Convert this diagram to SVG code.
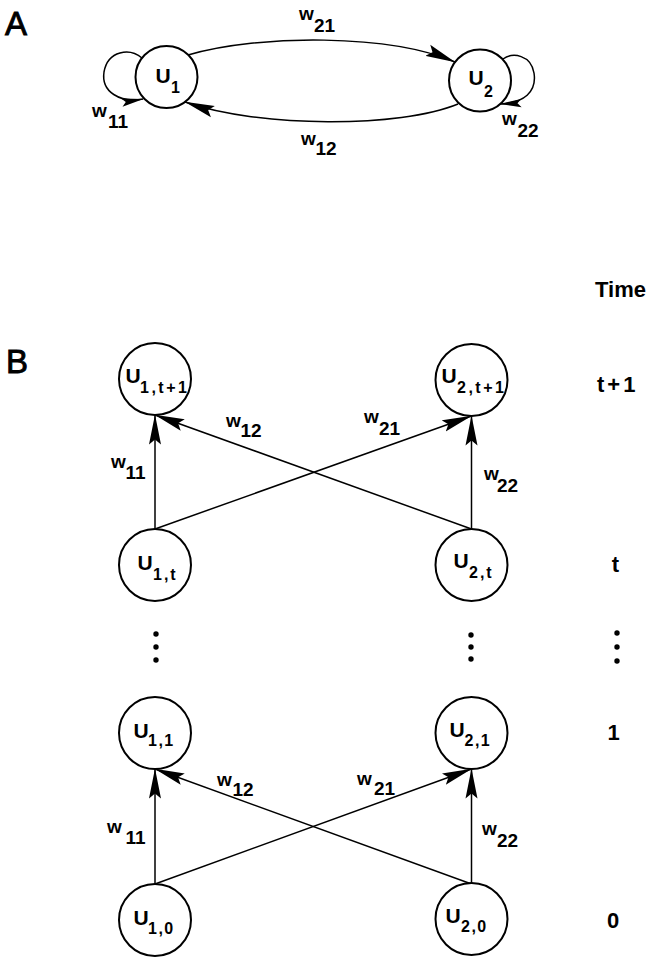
<svg xmlns="http://www.w3.org/2000/svg" width="651" height="960" viewBox="0 0 651 960">
<defs>
<marker id="arr" markerUnits="userSpaceOnUse" markerWidth="30" markerHeight="13" viewBox="0 0 30 13" refX="29.5" refY="6.5" orient="auto">
<path d="M0,0.5 L30,6.5 L0,12.5 L5,6.5 Z" fill="#000"/>
</marker>
<marker id="arrs" markerUnits="userSpaceOnUse" markerWidth="22" markerHeight="9" viewBox="0 0 22 9" refX="21.5" refY="4.5" orient="auto">
<path d="M0,0.3 L22,4.5 L0,8.7 L4,4.5 Z" fill="#000"/>
</marker>
</defs>
<style>
.node{fill:#fff;stroke:#000;stroke-width:2}
.edge{fill:none;stroke:#000;stroke-width:1.5}
.arr{marker-end:url(#arr)}
.lp{marker-end:url(#arrs)}
text{font-family:"Liberation Sans",Arial,Helvetica,sans-serif;fill:#000}
.u{font-size:21px;font-weight:bold}
.s{font-size:16px;font-weight:bold}
.w{font-size:19px;font-weight:bold}
.tm{font-size:22px;font-weight:bold}
.pl{font-size:33px;stroke:#000;stroke-width:0.9}
.dot{fill:#000}
</style>
<rect width="651" height="960" fill="#fff"/>

<text class="pl" x="5" y="35">A</text>
<text class="pl" x="6" y="373">B</text>

<g id="connectors">
<path class="edge lp" d="M142,58 C130,48 108,50 104,72 C101,92 120,103 143,99"/>
<path class="edge lp" d="M503,59 C513,52 531,55 534,73 C537,92 524,103 500,104"/>
<path class="edge arr" d="M188,55 C260,34 390,34 455,62"/>
<path class="edge arr" d="M458,104 C400,128 260,128 185,102"/>
<path class="edge arr" d="M155,529 L155,415"/>
<path class="edge arr" d="M155,529 L471.5,416"/>
<path class="edge arr" d="M471.5,529 L155,415"/>
<path class="edge arr" d="M471.5,529 L471.5,416"/>
<path class="edge arr" d="M155,884 L155,769"/>
<path class="edge arr" d="M155,884 L471.5,769"/>
<path class="edge arr" d="M471.5,884 L155,769"/>
<path class="edge arr" d="M471.5,884 L471.5,769"/>
</g>

<g id="edge-labels">
<text class="w" x="92" y="117">w<tspan x="108" y="128">11</tspan></text>
<text class="w" x="502" y="125">w<tspan x="517.5" y="137">22</tspan></text>
<text class="w" x="299" y="20">w<tspan x="314" y="32">21</tspan></text>
<text class="w" x="301" y="145">w<tspan x="315.5" y="155">12</tspan></text>

<text class="w" x="111" y="468">w<tspan x="125.5" y="479">11</tspan></text>
<text class="w" x="226" y="427">w<tspan x="240.5" y="437">12</tspan></text>
<text class="w" x="364" y="423">w<tspan x="379" y="435">21</tspan></text>
<text class="w" x="484" y="480">w<tspan x="497" y="492">22</tspan></text>

<text class="w" x="107" y="833">w<tspan x="125.5" y="844">11</tspan></text>
<text class="w" x="217" y="786">w<tspan x="232.5" y="796">12</tspan></text>
<text class="w" x="357" y="785">w<tspan x="374" y="795">21</tspan></text>
<text class="w" x="482" y="835">w<tspan x="497" y="847">22</tspan></text>
</g>

<g id="U1">
<circle class="node" cx="166.5" cy="77" r="31"/>
<text class="u" x="155.5" y="83">U<tspan class="s" x="171" y="93">1</tspan></text>
</g>
<g id="U2">
<circle class="node" cx="480" cy="80.5" r="31"/>
<text class="u" x="468.5" y="85">U<tspan class="s" x="484" y="97">2</tspan></text>
</g>

<g id="U1_t1">
<circle class="node" cx="155" cy="379" r="36"/>
<text class="u" x="125.5" y="383">U<tspan class="s" x="140" y="393" letter-spacing="2.5">1,t+1</tspan></text>
</g>
<g id="U2_t1">
<circle class="node" cx="471.5" cy="380" r="36"/>
<text class="u" x="441.5" y="383">U<tspan class="s" x="457" y="393" letter-spacing="2.5">2,t+1</tspan></text>
</g>
<g id="U1_t">
<circle class="node" cx="155" cy="565" r="36"/>
<text class="u" x="137.5" y="570">U<tspan class="s" x="153" y="580" letter-spacing="2">1,t</tspan></text>
</g>
<g id="U2_t">
<circle class="node" cx="471.5" cy="565" r="36"/>
<text class="u" x="453.5" y="568">U<tspan class="s" x="469" y="578" letter-spacing="2">2,t</tspan></text>
</g>
<g id="U1_1">
<circle class="node" cx="155" cy="733" r="36"/>
<text class="u" x="133.5" y="738">U<tspan class="s" x="148" y="746" letter-spacing="1.5">1,1</tspan></text>
</g>
<g id="U2_1">
<circle class="node" cx="471.5" cy="733" r="36"/>
<text class="u" x="449.5" y="737">U<tspan class="s" x="464.5" y="746" letter-spacing="1.5">2,1</tspan></text>
</g>
<g id="U1_0">
<circle class="node" cx="155" cy="920" r="36"/>
<text class="u" x="133.5" y="925">U<tspan class="s" x="148" y="934" letter-spacing="1.5">1,0</tspan></text>
</g>
<g id="U2_0">
<circle class="node" cx="471.5" cy="919" r="36"/>
<text class="u" x="445.5" y="923">U<tspan class="s" x="461" y="932" letter-spacing="1.5">2,0</tspan></text>
</g>

<g id="ellipsis">
<circle class="dot" cx="156" cy="634" r="2.7"/>
<circle class="dot" cx="156" cy="647" r="2.7"/>
<circle class="dot" cx="156" cy="660" r="2.7"/>
<circle class="dot" cx="471" cy="635" r="2.7"/>
<circle class="dot" cx="471" cy="647" r="2.7"/>
<circle class="dot" cx="471" cy="659" r="2.7"/>
</g>

<g id="time-axis">
<text class="tm" x="595" y="297">Time</text>
<text class="tm" x="597" y="392" letter-spacing="3">t+1</text>
<text class="tm" x="615.5" y="572" text-anchor="middle">t</text>
<circle class="dot" cx="617" cy="633" r="2.7"/>
<circle class="dot" cx="617" cy="647" r="2.7"/>
<circle class="dot" cx="617" cy="661" r="2.7"/>
<text class="tm" x="607.5" y="740">1</text>
<text class="tm" x="607" y="928">0</text>
</g>
</svg>
